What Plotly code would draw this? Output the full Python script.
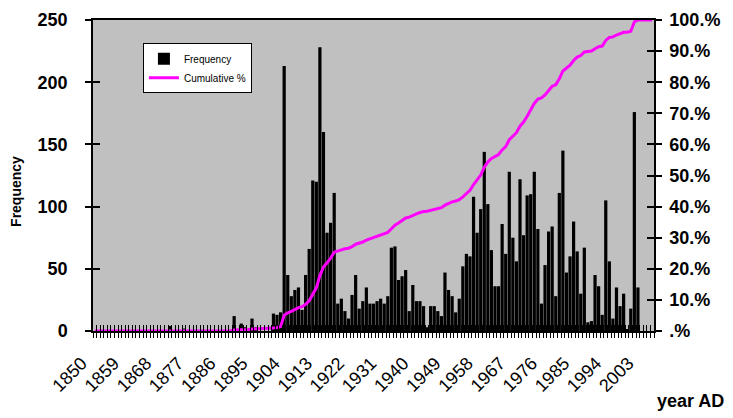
import numpy as np
import plotly.graph_objects as go

start_year = 1850
freq = [
    0, 0, 0, 0, 0, 0, 0, 0, 0, 0,          # 1850s
    0, 0, 0, 0, 0, 0, 0, 0, 0, 0,          # 1860s
    0, 4, 0, 0, 0, 2, 0, 0, 0, 0,          # 1870s
    0, 0, 0, 0, 0, 0, 0, 0, 0, 12,         # 1880s
    0, 6, 3, 0, 10, 3, 0, 0, 0, 0,         # 1890s
    14, 13, 15, 213, 45, 28, 33, 35, 17, 45,   # 1900s
    66, 121, 120, 228, 160, 79, 87, 111, 22, 26,  # 1910s
    16, 10, 29, 45, 18, 24, 35, 22, 22, 24,   # 1920s
    26, 22, 28, 67, 68, 41, 44, 49, 16, 37,   # 1930s
    24, 24, 20, 3, 20, 20, 16, 12, 47, 33,    # 1940s
    28, 15, 26, 52, 62, 60, 108, 79, 98, 144,  # 1950s
    102, 65, 36, 36, 86, 62, 128, 75, 56, 122,  # 1960s
    77, 109, 110, 128, 82, 22, 53, 80, 84, 28,  # 1970s
    111, 145, 47, 60, 88, 64, 30, 67, 7, 8,   # 1980s
    45, 36, 13, 105, 56, 10, 35, 20, 30, 1,   # 1990s
    18, 176, 35, 0, 0, 0, 0,                # 2000s
]
years = list(range(start_year, start_year + len(freq)))
label_years = years[::9]
label_text = [str(y) for y in label_years]
left_ticks = [0, 50, 100, 150, 200, 250]
right_ticks = [0, 10, 20, 30, 40, 50, 60, 70, 80, 90, 100]
right_text = [".%", "10.%", "20.%", "30.%", "40.%", "50.%", "60.%", "70.%", "80.%", "90.%", "100.%"]

cum = np.cumsum(freq) / np.sum(freq) * 100.0

FONT = "Liberation Sans, Arial, sans-serif"
xr = [years[0] - 0.5, years[-1] + 0.5]
bounds = [y - 0.5 for y in years] + [years[-1] + 0.5]

fig = go.Figure()
fig.add_trace(go.Bar(x=years, y=freq, name="Frequency",
                     marker=dict(color="black", line=dict(width=0)),
                     xaxis="x", yaxis="y"))
fig.add_trace(go.Scatter(x=years, y=cum, name="Cumulative %", mode="lines",
                         line=dict(color="#FF00FF", width=3),
                         xaxis="x", yaxis="y2"))
# invisible helper traces so that the overlay tick axes are drawn
for xa, ya in [("x2", "y"), ("x3", "y"), ("x", "y3"), ("x", "y4")]:
    fig.add_trace(go.Scatter(x=[years[0]], y=[0], mode="markers",
                             marker=dict(opacity=0), showlegend=False,
                             hoverinfo="skip", xaxis=xa, yaxis=ya))

tickfont_b = dict(family=FONT, size=18, color="black", weight="bold")

# page body has an 8px margin, so the figure is sized to fit the window
fig.update_layout(
    width=725, height=410,
    margin=dict(l=85, r=79, t=12, b=87, autoexpand=False),
    paper_bgcolor="white", plot_bgcolor="#C0C0C0",
    bargap=0.1,
    showlegend=True,
    legend=dict(x=0.089, y=0.925, xanchor="left", yanchor="top",
                bgcolor="white", bordercolor="black", borderwidth=1,
                font=dict(family=FONT, size=10, color="black"),
                itemwidth=30, tracegroupgap=0),
    xaxis=dict(range=xr, tickmode="array", tickvals=label_years, ticktext=label_text,
               tickangle=-45, ticks="", showgrid=False, zeroline=False,
               showline=True, linecolor="black", linewidth=1.5, mirror=True,
               automargin=False, ticklabelstandoff=13, ticklabelshift=-13,
               tickfont=dict(family=FONT, size=18, color="black")),
    xaxis2=dict(range=xr, overlaying="x", anchor="y", side="bottom",
                tickmode="array", tickvals=bounds, ticks="outside", ticklen=6,
                tickcolor="black", tickwidth=1, showticklabels=False,
                showgrid=False, zeroline=False, showline=False, automargin=False),
    xaxis3=dict(range=xr, overlaying="x", anchor="y", side="bottom",
                tickmode="array", tickvals=bounds, ticks="inside", ticklen=6,
                tickcolor="black", tickwidth=1, showticklabels=False,
                showgrid=False, zeroline=False, showline=False, automargin=False),
    yaxis=dict(range=[0, 250], tickmode="array", tickvals=left_ticks,
               ticks="outside", ticklen=6, tickcolor="black", tickwidth=1.5,
               showgrid=False, zeroline=False, showline=True, linecolor="black",
               linewidth=1.5, tickfont=tickfont_b, ticklabelstandoff=14,
               automargin=False),
    yaxis3=dict(range=[0, 250], overlaying="y", anchor="x", side="left",
                tickmode="array", tickvals=left_ticks, ticks="inside", ticklen=7,
                tickcolor="black", tickwidth=1.5, showticklabels=False,
                showgrid=False, zeroline=False, showline=False, automargin=False),
    yaxis2=dict(range=[0, 100], overlaying="y", anchor="x", side="right",
                tickmode="array", tickvals=right_ticks, ticktext=right_text,
                ticks="outside", ticklen=6, tickcolor="black", tickwidth=1.5,
                showgrid=False, zeroline=False, showline=True, linecolor="black",
                linewidth=1.5, tickfont=tickfont_b, ticklabelstandoff=4,
                automargin=False),
    yaxis4=dict(range=[0, 100], overlaying="y", anchor="x", side="right",
                tickmode="array", tickvals=right_ticks, ticks="inside", ticklen=7,
                tickcolor="black", tickwidth=1.5, showticklabels=False,
                showgrid=False, zeroline=False, showline=False, automargin=False),
    annotations=[
        dict(text="Frequency", xref="paper", yref="paper", x=-0.1375, y=0.45,
             textangle=-90, showarrow=False, xanchor="center", yanchor="middle",
             font=dict(family=FONT, size=14, color="black", weight="bold")),
        dict(text="year AD", xref="paper", yref="paper", x=1.128, y=-0.225,
             showarrow=False, xanchor="right", yanchor="middle",
             font=dict(family=FONT, size=18, color="black", weight="bold")),
    ],
)

fig.write_html("out.html")
